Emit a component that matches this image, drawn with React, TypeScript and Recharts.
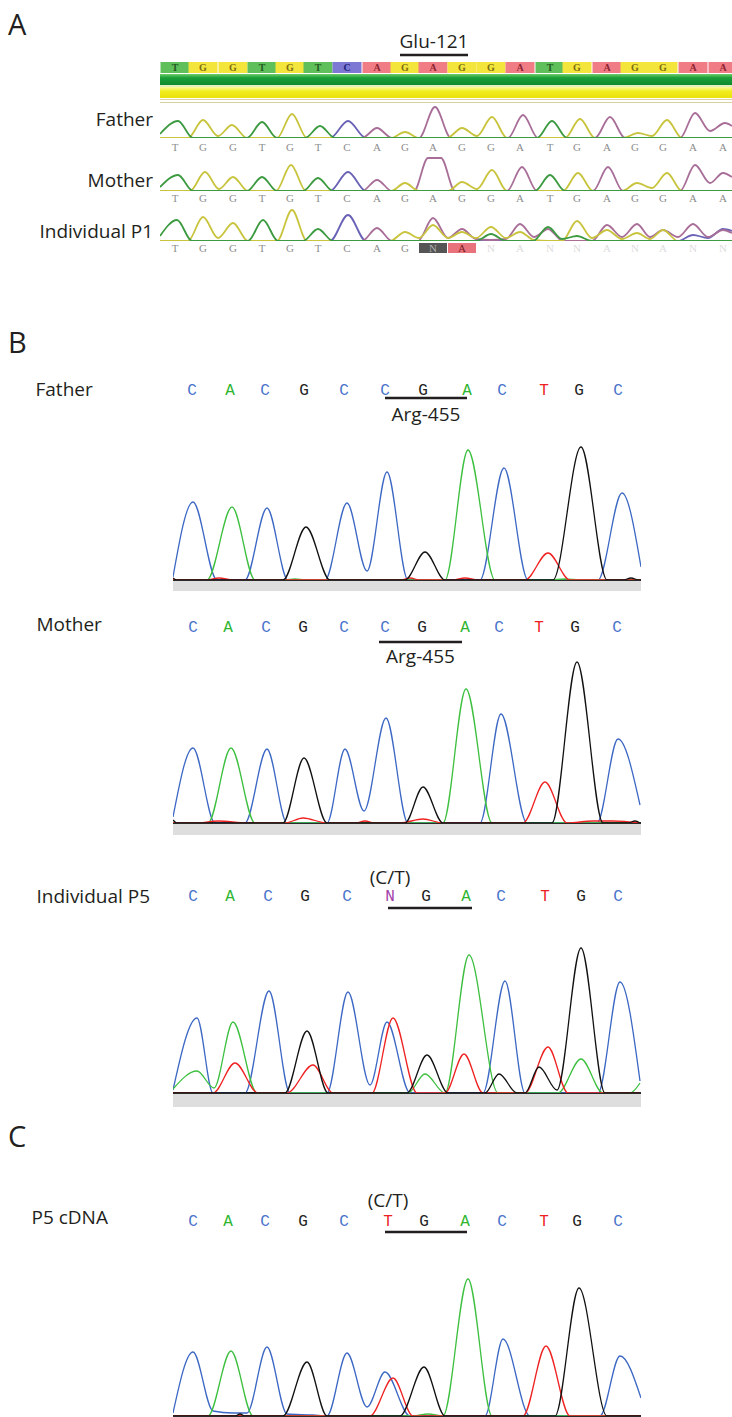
import React from 'react';
import { LineChart, Line, XAxis, YAxis, ReferenceLine } from 'recharts';

type Pt = [number, number];

// ================= Panel A : trace screenshot (Glu-121) =================
const seqA: string[] = ['T','G','G','T','G','T','C','A','G','A','G','G','A','T','G','A','G','G','A','A'];
const seqP1: string[] = ['T','G','G','T','G','T','C','A','G','N','A','N','A','N','N','A','N','A','N','N'];
const callP1: string[] = ['ok','ok','ok','ok','ok','ok','ok','ok','ok','het','mismatch','low','low','low','low','low','low','low','low','low'];
const posA: number[] = [15, 43, 73, 102, 130, 158, 187, 217, 245, 273, 302, 331, 360, 390, 417, 447, 475, 503, 533, 563];
const codonA = { from: 240, to: 308, name: 'Glu-121' };

const fatherA_T: Pt[] = [[0,4],[18,17],[33,0],[87,0],[102,16],[117,0],[145,0],[160,12],[175,0],[377,0],[392,17],[407,0],[572,0]];
const fatherA_G: Pt[] = [[0,0],[28,0],[43,18],[58,2],[72,13],[87,0],[117,0],[132,24],[147,0],[231,0],[245,6],[259,0],[287,0],[302,10],[317,2],[332,21],[347,0],[405,0],[420,19],[435,0],[463,0],[478,5],[492,2],[507,18],[522,0],[572,0]];
const fatherA_C: Pt[] = [[0,0],[170,0],[188,17],[206,0],[572,0]];
const fatherA_A: Pt[] = [[0,0],[202,0],[217,10],[232,0],[259,0],[275,31],[291,0],[348,0],[363,23],[378,0],[435,0],[450,21],[465,0],[520,0],[535,25],[550,7],[565,15],[572,12]];

const motherA_T: Pt[] = [[0,4],[18,16],[33,0],[87,0],[102,14],[117,0],[143,0],[158,13],[173,0],[375,0],[390,16],[405,0],[572,0]];
const motherA_G: Pt[] = [[0,0],[30,0],[45,19],[59,2],[73,14],[88,0],[116,0],[131,26],[146,0],[231,0],[245,8],[259,0],[288,0],[302,9],[317,2],[332,21],[347,0],[403,0],[418,18],[433,0],[462,0],[477,8],[492,3],[507,18],[522,0],[572,0]];
const motherA_C: Pt[] = [[0,0],[170,0],[188,19],[206,0],[572,0]];
const motherA_A: Pt[] = [[0,0],[202,0],[217,11],[232,0],[254,0],[268,33],[281,33],[295,0],[347,0],[362,24],[377,0],[433,0],[448,24],[463,0],[520,0],[535,26],[550,8],[563,18],[572,14]];

const p1A_T: Pt[] = [[0,5],[17,21],[32,0],[88,0],[103,21],[118,0],[143,0],[158,12],[173,0],[316,0],[331,7],[346,0],[373,0],[388,14],[402,2],[417,5],[432,0],[572,0]];
const p1A_G: Pt[] = [[0,0],[28,0],[43,24],[58,3],[73,18],[88,0],[117,0],[132,31],[147,0],[230,0],[245,9],[259,3],[273,16],[288,3],[302,9],[316,3],[331,14],[346,3],[360,9],[374,1],[388,0],[402,0],[417,20],[432,3],[447,11],[462,2],[477,8],[490,2],[503,11],[518,0],[572,0]];
const p1A_C: Pt[] = [[0,0],[170,0],[188,26],[206,0],[518,0],[533,6],[548,3],[563,12],[572,10]];
const p1A_A: Pt[] = [[0,0],[202,0],[217,13],[232,0],[258,0],[273,23],[288,3],[302,12],[316,2],[331,1],[346,2],[360,17],[374,4],[388,12],[403,0],[432,0],[447,16],[462,4],[477,17],[490,4],[503,11],[518,4],[533,17],[548,4],[563,11],[572,8]];

// ================= Panels B and C : chromatograms (Arg-455) =================
const seqRef: string[] = ['C','A','C','G','C','C','G','A','C','T','G','C'];
const seqP5: string[] = ['C','A','C','G','C','N','G','A','C','T','G','C'];
const seqCdna: string[] = ['C','A','C','G','C','T','G','A','C','T','G','C'];

const posFather: number[] = [19, 57, 92, 131, 171, 212, 250, 294, 329, 371, 406, 445];
const posMother: number[] = [20, 55, 93, 130, 171, 212, 249, 292, 326, 366, 402, 444];
const posP5: number[] = [20, 57, 95, 132, 174, 217, 253, 293, 328, 372, 408, 445];
const posCdna: number[] = [20, 55, 92, 130, 171, 215, 251, 292, 329, 371, 404, 445];

const codonFather = { from: 212, to: 294, level: 182 };
const codonMother = { from: 206, to: 289, level: 181 };
const codonP5 = { from: 215, to: 299, level: 185 };
const codonCdna = { from: 212, to: 294, level: 184 };

const father_C: Pt[] = [[0,3],[20,78],[44,0],[72,0],[94,72],[115,0],[152,0],[174,77],[194,9],[214,108],[235,0],[307,0],[331,112],[355,0],[425,0],[449,87],[468,13]];
const father_A: Pt[] = [[0,0],[34,0],[59,73],[82,0],[112,0],[122,1],[132,0],[272,0],[295,130],[322,0],[377,0],[392,1],[407,0],[468,0]];
const father_G: Pt[] = [[0,2],[4,0],[110,0],[133,53],[157,0],[232,0],[252,28],[272,0],[380,0],[408,133],[434,0],[450,0],[458,2],[466,0],[468,0]];
const father_T: Pt[] = [[0,0],[34,0],[46,2],[60,0],[227,0],[237,2],[247,0],[280,0],[292,2],[305,0],[352,0],[375,27],[397,0],[468,0]];

const mother_C: Pt[] = [[0,6],[20,75],[42,0],[72,0],[94,74],[114,0],[154,0],[172,74],[191,12],[213,105],[235,0],[307,0],[328,109],[354,0],[424,0],[445,84],[467,18]];
const mother_A: Pt[] = [[0,0],[35,0],[58,75],[82,0],[270,0],[293,134],[319,0],[467,0]];
const mother_G: Pt[] = [[0,3],[4,0],[110,0],[131,65],[154,0],[232,0],[250,36],[270,0],[379,0],[404,161],[430,0],[455,0],[462,2],[467,0]];
const mother_T: Pt[] = [[0,0],[25,0],[45,2],[74,0],[112,0],[130,5],[154,0],[182,0],[192,2],[202,0],[227,0],[250,4],[270,0],[350,0],[372,41],[394,0],[420,2],[440,2],[467,0]];

const p5_C: Pt[] = [[0,3],[24,75],[40,0],[72,0],[96,102],[117,0],[154,0],[175,101],[197,8],[214,71],[237,0],[310,0],[332,112],[352,0],[425,0],[447,111],[467,12]];
const p5_A: Pt[] = [[0,4],[24,22],[41,5],[60,71],[84,0],[235,0],[252,19],[272,0],[296,138],[325,0],[385,0],[408,34],[430,0],[457,0],[467,10]];
const p5_G: Pt[] = [[0,0],[112,0],[134,62],[155,0],[234,0],[254,38],[275,0],[312,0],[326,19],[344,0],[352,0],[366,26],[384,3],[408,145],[432,0],[467,0]];
const p5_T: Pt[] = [[0,0],[40,0],[62,30],[85,0],[114,0],[140,28],[160,0],[199,0],[220,75],[244,0],[272,0],[291,39],[310,0],[352,0],[375,46],[395,0],[467,0]];

const cdna_C: Pt[] = [[0,3],[20,64],[40,5],[60,3],[74,3],[94,69],[114,2],[140,1],[154,0],[174,63],[194,9],[212,44],[237,0],[312,0],[330,77],[357,0],[427,0],[447,60],[468,18]];
const cdna_A: Pt[] = [[0,0],[35,0],[58,65],[80,0],[240,0],[255,2],[270,0],[295,137],[319,0],[468,0]];
const cdna_G: Pt[] = [[0,0],[62,0],[67,2],[72,0],[110,0],[134,54],[154,0],[227,0],[251,49],[272,0],[382,0],[406,128],[434,0],[468,0]];
const cdna_T: Pt[] = [[0,0],[197,0],[220,38],[240,0],[350,0],[373,70],[397,0],[468,0]];

// ================= styling =================
const SANS = "'Open Sans', 'Noto Sans', sans-serif";
const INK = '#231f20';
const chromColor: Record<string, string> = { A: '#3dbf3f', C: '#3c68c4', G: '#111111', T: '#ef2222' };
const letterColorB: Record<string, string> = { A: '#30b531', C: '#4a74cc', G: '#222222', T: '#ee2020', N: '#a23ca8' };
const traceColorA: Record<string, string> = { A: '#a86e98', C: '#6a62b6', G: '#c9c43e', T: '#3c9a40' };
const cellColorA: Record<string, string> = { T: '#5fbf5a', G: '#f3e53c', C: '#7c78d4', A: '#f07d86' };
const cellTextA: Record<string, string> = { T: '#1f5a1f', G: '#7d6d10', C: '#23237a', A: '#8d2430' };

const toRows = (pts: Pt[]) => pts.map(([x, y]) => ({ x, y }));

const underLabel = (text: string, dy: number) => (props: any) => {
  const vb = props.viewBox || {};
  const x = (vb.x ?? 0) + (vb.width ?? 0) / 2;
  const y = (vb.y ?? 0) + dy;
  return (
    <text x={x} y={y} textAnchor="middle" fontFamily={SANS} fontSize={19} fill={INK}>
      {text}
    </text>
  );
};

// ---------- chromatogram (panels B, C) ----------
type ChromProps = {
  plotTop: number;
  baseline: number;
  channels: { base: string; pts: Pt[] }[];
  letters: string[];
  pos: number[];
  codon: { from: number; to: number; level: number };
  label?: { text: string; dy: number };
  note?: { index: number; text: string; dy: number };
};

function Chrom({ plotTop, baseline, channels, letters, pos, codon, label, note }: ChromProps) {
  const AX = 40;
  const ymax = baseline - plotTop;
  const tick = (p: any) => {
    const i = pos.indexOf(p.payload.value);
    const l = letters[i];
    return (
      <g>
        {note && note.index === i ? (
          <text x={p.x} y={p.y - note.dy} textAnchor="middle" fontFamily={SANS} fontSize={19} fill={INK}>
            {note.text}
          </text>
        ) : null}
        <text x={p.x} y={p.y} textAnchor="middle" fontFamily="'Liberation Mono', 'DejaVu Sans Mono', monospace" fontSize={16} fill={letterColorB[l]}>
          {l}
        </text>
      </g>
    );
  };
  return (
    <div style={{ position: 'absolute', left: 171, top: plotTop - AX }}>
      <LineChart width={472} height={AX + ymax + 4} margin={{ top: 0, right: 2, bottom: 4, left: 2 }}>
        <XAxis
          xAxisId="x"
          dataKey="x"
          type="number"
          orientation="top"
          domain={[0, 468]}
          allowDataOverflow
          ticks={pos}
          interval={0}
          tick={tick}
          tickLine={false}
          axisLine={false}
          height={AX}
          tickSize={0}
          tickMargin={1}
        />
        <YAxis hide type="number" domain={[0, ymax]} allowDataOverflow />
        <ReferenceLine xAxisId="x" y={0} stroke="#2b2b2b" strokeWidth={2} />
        {channels.map((ch) => (
          <Line
            key={ch.base}
            xAxisId="x"
            data={toRows(ch.pts)}
            dataKey="y"
            type="monotone"
            stroke={chromColor[ch.base]}
            strokeWidth={1.3}
            dot={false}
            activeDot={false}
            isAnimationActive={false}
          />
        ))}
        <ReferenceLine
          xAxisId="x"
          segment={[
            { x: codon.from, y: codon.level },
            { x: codon.to, y: codon.level },
          ]}
          stroke={INK}
          strokeWidth={2.6}
          ifOverflow="visible"
          label={label ? underLabel(label.text, label.dy) : undefined}
        />
      </LineChart>
    </div>
  );
}

// ---------- trace screenshot (panel A) ----------
type TraceAProps = {
  divTop: number;
  plotTop: number;
  baseline: number;
  channels: { base: string; pts: Pt[] }[];
  letters: string[];
  calls?: string[];
  letterDy: number;
  withHeader?: boolean;
};

function TraceA({ divTop, plotTop, baseline, channels, letters, calls, letterDy, withHeader }: TraceAProps) {
  const ymax = baseline - plotTop;
  const topH = plotTop - divTop;
  const BOT = 16;
  const cellTick = (p: any) => {
    const i = posA.indexOf(p.payload.value);
    const l = seqA[i];
    return (
      <g>
        <rect x={p.x - 14.5} y={62 - divTop} width={29} height={11} fill={cellColorA[l]} />
        <text x={p.x} y={71 - divTop} textAnchor="middle" fontFamily="'Liberation Serif', serif" fontWeight={700} fontSize={10} fill={cellTextA[l]}>
          {l}
        </text>
      </g>
    );
  };
  const letterTick = (p: any) => {
    const i = posA.indexOf(p.payload.value);
    const l = letters[i];
    const c = calls ? calls[i] : 'ok';
    const y = p.y + letterDy;
    let fill = '#8d8d8d';
    let box: string | null = null;
    if (c === 'het') {
      box = '#555555';
      fill = '#b0b0b0';
    } else if (c === 'mismatch') {
      box = '#e8737c';
      fill = '#7a1a22';
    } else if (c === 'low') {
      fill = '#dcdcdc';
    }
    return (
      <g>
        {box ? <rect x={p.x - 14} y={y - 9} width={28} height={10} fill={box} /> : null}
        <text x={p.x} y={y} textAnchor="middle" fontFamily="'Liberation Serif', serif" fontSize={11} fill={fill}>
          {l}
        </text>
      </g>
    );
  };
  return (
    <div style={{ position: 'absolute', left: 158, top: divTop }}>
      <LineChart width={576} height={topH + ymax + BOT} margin={{ top: withHeader ? 0 : topH, right: 2, bottom: 0, left: 2 }}>
        {withHeader ? (
          <XAxis
            xAxisId="cells"
            dataKey="x"
            type="number"
            orientation="top"
            domain={[0, 572]}
            allowDataOverflow
            ticks={posA}
            interval={0}
            tick={cellTick}
            tickLine={false}
            axisLine={false}
            height={topH}
            tickSize={0}
            tickMargin={0}
          />
        ) : null}
        <XAxis
          xAxisId="x"
          dataKey="x"
          type="number"
          orientation="bottom"
          domain={[0, 572]}
          allowDataOverflow
          ticks={posA}
          interval={0}
          tick={letterTick}
          tickLine={false}
          axisLine={false}
          height={BOT}
          tickSize={0}
          tickMargin={0}
        />
        <YAxis hide type="number" domain={[0, ymax]} allowDataOverflow />
        {channels.map((ch, k) => (
          <Line
            key={ch.base}
            xAxisId={withHeader && k < 2 ? 'cells' : 'x'}
            data={toRows(ch.pts)}
            dataKey="y"
            type="monotone"
            stroke={traceColorA[ch.base]}
            strokeWidth={1.8}
            dot={false}
            activeDot={false}
            isAnimationActive={false}
          />
        ))}
        {withHeader ? (
          <ReferenceLine
            xAxisId="x"
            segment={[
              { x: codonA.from, y: baseline - 55 },
              { x: codonA.to, y: baseline - 55 },
            ]}
            stroke={INK}
            strokeWidth={2.4}
            ifOverflow="visible"
            label={underLabel(codonA.name, -7)}
          />
        ) : null}
      </LineChart>
    </div>
  );
}

export default function App() {
  const labelStyle = { fontFamily: SANS, fontSize: 19, fill: INK } as const;
  const panelStyle = { fontFamily: SANS, fontSize: 29, fill: INK } as const;
  return (
    <div style={{ position: 'absolute', left: 0, top: 0, width: 732, height: 1417, overflow: 'hidden', background: '#ffffff' }}>
      <svg width={732} height={1417} style={{ position: 'absolute', left: 0, top: 0 }}>
        <text x={8} y={35} {...panelStyle}>A</text>
        <text x={8} y={353} {...panelStyle}>B</text>
        <text x={8} y={1147} {...panelStyle}>C</text>
        <text x={153} y={126} textAnchor="end" {...labelStyle}>Father</text>
        <text x={153} y={187} textAnchor="end" {...labelStyle}>Mother</text>
        <text x={153} y={238} textAnchor="end" {...labelStyle}>Individual P1</text>
        <text x={35.5} y={396} {...labelStyle}>Father</text>
        <text x={36.5} y={631} {...labelStyle}>Mother</text>
        <text x={36.5} y={903} {...labelStyle}>Individual P5</text>
        <text x={31.5} y={1224} {...labelStyle}>P5 cDNA</text>
      </svg>

      {/* panel A quality bands */}
      <div style={{ position: 'absolute', left: 160, top: 74, width: 572, height: 11, background: 'linear-gradient(#6fcf6a, #1a9e38 35%, #0f8a2f)' }} />
      <div style={{ position: 'absolute', left: 160, top: 85, width: 572, height: 2, background: '#e6eec0' }} />
      <div style={{ position: 'absolute', left: 160, top: 87, width: 572, height: 11, background: 'linear-gradient(#fafa9c, #f1ec1c 40%, #e9e10c)' }} />
      <div style={{ position: 'absolute', left: 160, top: 99, width: 572, height: 4, borderTop: '1px solid #d9d2a0', borderBottom: '1px solid #d9d2a0', boxSizing: 'border-box' }} />

      <TraceA
        divTop={16}
        plotTop={104}
        baseline={138}
        withHeader
        letterDy={13}
        letters={seqA}
        channels={[
          { base: 'C', pts: fatherA_C },
          { base: 'A', pts: fatherA_A },
          { base: 'G', pts: fatherA_G },
          { base: 'T', pts: fatherA_T },
        ]}
      />
      <TraceA
        divTop={153}
        plotTop={157}
        baseline={191}
        letterDy={11}
        letters={seqA}
        channels={[
          { base: 'C', pts: motherA_C },
          { base: 'A', pts: motherA_A },
          { base: 'G', pts: motherA_G },
          { base: 'T', pts: motherA_T },
        ]}
      />
      <TraceA
        divTop={203}
        plotTop={207}
        baseline={241}
        letterDy={11}
        letters={seqP1}
        calls={callP1}
        channels={[
          { base: 'C', pts: p1A_C },
          { base: 'A', pts: p1A_A },
          { base: 'G', pts: p1A_G },
          { base: 'T', pts: p1A_T },
        ]}
      />

      {/* grey strips under chromatogram baselines */}
      <div style={{ position: 'absolute', left: 173, top: 581, width: 468, height: 10, background: '#dedede' }} />
      <div style={{ position: 'absolute', left: 173, top: 824, width: 468, height: 11, background: '#dedede' }} />
      <div style={{ position: 'absolute', left: 173, top: 1094, width: 468, height: 13, background: '#dedede' }} />

      <Chrom
        plotTop={396}
        baseline={580}
        letters={seqRef}
        pos={posFather}
        codon={codonFather}
        label={{ text: 'Arg-455', dy: 23 }}
        channels={[
          { base: 'C', pts: father_C },
          { base: 'A', pts: father_A },
          { base: 'T', pts: father_T },
          { base: 'G', pts: father_G },
        ]}
      />
      <Chrom
        plotTop={633}
        baseline={823}
        letters={seqRef}
        pos={posMother}
        codon={codonMother}
        label={{ text: 'Arg-455', dy: 21 }}
        channels={[
          { base: 'C', pts: mother_C },
          { base: 'A', pts: mother_A },
          { base: 'T', pts: mother_T },
          { base: 'G', pts: mother_G },
        ]}
      />
      <Chrom
        plotTop={902}
        baseline={1093}
        letters={seqP5}
        pos={posP5}
        codon={codonP5}
        note={{ index: 5, text: '(C/T)', dy: 17 }}
        channels={[
          { base: 'C', pts: p5_C },
          { base: 'A', pts: p5_A },
          { base: 'T', pts: p5_T },
          { base: 'G', pts: p5_G },
        ]}
      />
      <Chrom
        plotTop={1227}
        baseline={1416}
        letters={seqCdna}
        pos={posCdna}
        codon={codonCdna}
        note={{ index: 5, text: '(C/T)', dy: 19 }}
        channels={[
          { base: 'C', pts: cdna_C },
          { base: 'A', pts: cdna_A },
          { base: 'T', pts: cdna_T },
          { base: 'G', pts: cdna_G },
        ]}
      />
    </div>
  );
}
